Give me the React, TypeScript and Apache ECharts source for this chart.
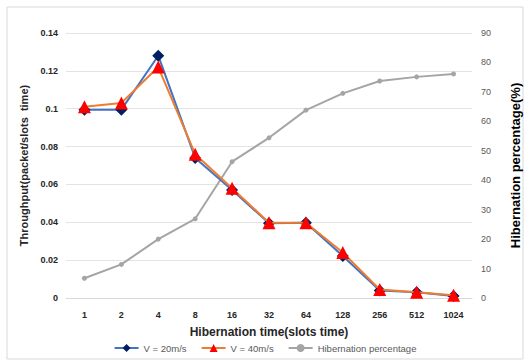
import React, { useEffect, useRef } from "react";
import * as echarts from "echarts";

const categories = ["1", "2", "4", "8", "16", "32", "64", "128", "256", "512", "1024"];
const v20 = [0.0995, 0.0995, 0.128, 0.074, 0.057, 0.0395, 0.0398, 0.0222, 0.004, 0.003, 0.001];
const v40 = [0.101, 0.103, 0.122, 0.076, 0.058, 0.0398, 0.0398, 0.024, 0.0045, 0.003, 0.0015];
const hibernation = [6.7, 11.4, 20, 26.9, 46.3, 54.4, 63.8, 69.5, 73.7, 75.1, 76.1];

const FONT = "Liberation Sans";

export default function App() {
  const ref = useRef<HTMLDivElement>(null);
  useEffect(() => {
    const chart = echarts.init(ref.current!, null, { renderer: "svg" });
    chart.setOption({
      animation: false,
      backgroundColor: "#ffffff",
      textStyle: { fontFamily: FONT },
      graphic: [
        {
          type: "rect",
          shape: { x: 7, y: 7, width: 516, height: 352 },
          style: { fill: "none", stroke: "#D9D9D9", lineWidth: 1 },
          silent: true,
        },
      ],
      grid: { left: 66, right: 56.5, top: 33, bottom: 65 },
      legend: {
        bottom: 5,
        left: "center",
        itemWidth: 24,
        itemHeight: 10,
        itemGap: 14,
        textStyle: { fontFamily: FONT, fontSize: 9.5, color: "#595959" },
        data: [
          { name: "V = 20m/s" },
          { name: "V = 40m/s" },
          { name: "Hibernation percentage", itemStyle: { borderWidth: 0 } },
        ],
      },
      xAxis: {
        type: "category",
        data: categories,
        boundaryGap: true,
        name: "Hibernation time(slots time)",
        nameLocation: "middle",
        nameGap: 28,
        nameTextStyle: { fontFamily: FONT, fontSize: 12, fontWeight: "bold", color: "#262626" },
        axisLine: { lineStyle: { color: "#D9D9D9" } },
        axisTick: { show: false },
        axisLabel: { fontFamily: FONT, fontSize: 9, fontWeight: "bold", color: "#262626", margin: 12 },
      },
      yAxis: [
        {
          type: "value",
          min: 0,
          max: 0.14,
          interval: 0.02,
          name: "Throughput(packet/slots  time)",
          nameLocation: "middle",
          nameGap: 31,
          nameRotate: 90,
          nameTextStyle: { fontFamily: FONT, fontSize: 11, fontWeight: "bold", color: "#262626" },
          axisLine: { show: false },
          axisTick: { show: false },
          axisLabel: {
            fontFamily: FONT,
            fontSize: 9,
            fontWeight: "bold",
            color: "#262626",
            margin: 8,
            formatter: (v: number) => String(Math.round(v * 100) / 100),
          },
          splitLine: { lineStyle: { color: "#E3E3E3" } },
        },
        {
          type: "value",
          min: 0,
          max: 90,
          interval: 10,
          position: "right",
          name: "Hibernation percentage(%)",
          nameLocation: "middle",
          nameGap: 37,
          nameRotate: 90,
          nameTextStyle: { fontFamily: FONT, fontSize: 13, fontWeight: "bold", color: "#000000" },
          axisLine: { show: false },
          axisTick: { show: false },
          axisLabel: { fontFamily: FONT, fontSize: 9, color: "#595959", margin: 9 },
          splitLine: { show: false },
        },
      ],
      series: [
        {
          name: "Hibernation percentage",
          type: "line",
          yAxisIndex: 1,
          data: hibernation,
          symbol: "circle",
          symbolSize: 5,
          lineStyle: { color: "#A5A5A5", width: 2 },
          itemStyle: { color: "#A5A5A5" },
          z: 1,
        },
        {
          name: "V = 20m/s",
          type: "line",
          yAxisIndex: 0,
          data: v20,
          symbol: "diamond",
          symbolSize: 12,
          lineStyle: { color: "#4472C4", width: 2 },
          itemStyle: { color: "#002060" },
          z: 2,
        },
        {
          name: "V = 40m/s",
          type: "line",
          yAxisIndex: 0,
          data: v40,
          symbol: "triangle",
          symbolSize: 13,
          lineStyle: { color: "#ED7D31", width: 2 },
          itemStyle: { color: "#FF0000" },
          z: 3,
        },
      ],
    });
    return () => chart.dispose();
  }, []);
  return (
    <div
      ref={ref}
      style={{ position: "fixed", left: 0, top: 0, width: 530, height: 363 }}
    />
  );
}
